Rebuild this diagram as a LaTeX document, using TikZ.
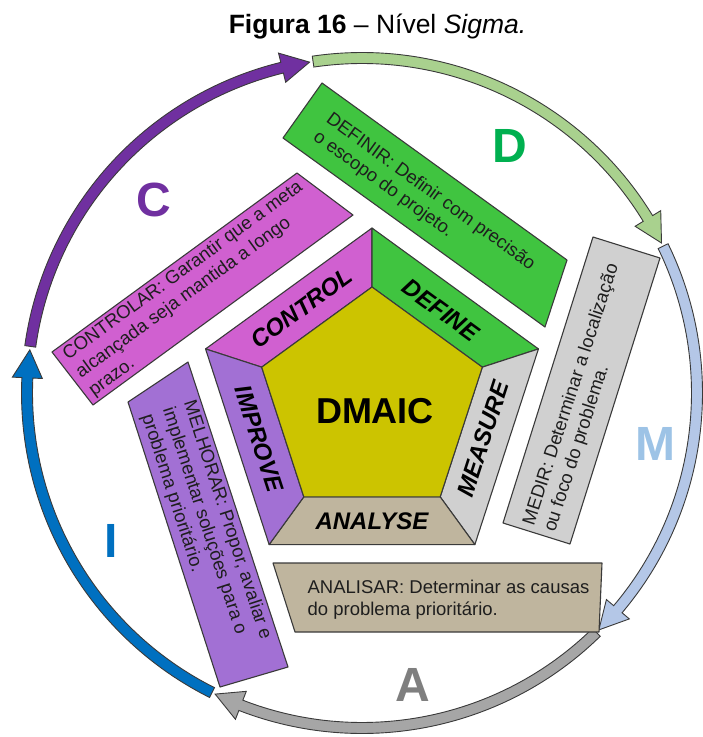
\documentclass[tikz,border=0pt]{standalone}
\usepackage{fontspec}
\setmainfont{Liberation Sans}
\usetikzlibrary{calc}

% phase colours
\definecolor{edgegray}{HTML}{3A3A3A}
\definecolor{txt}{HTML}{1E1E1E}
\definecolor{ctrlfill}{HTML}{D060D0}
\definecolor{deffill}{HTML}{40C440}
\definecolor{measfill}{HTML}{D0D0D0}
\definecolor{anafill}{HTML}{BFB59E}
\definecolor{impfill}{HTML}{A270D4}
\definecolor{corefill}{HTML}{CCC400}
% ring colours
\definecolor{ringC}{HTML}{7030A0}
\definecolor{ringD}{HTML}{A9D18E}
\definecolor{ringM}{HTML}{B4C7E7}
\definecolor{ringA}{HTML}{A6A6A6}
\definecolor{ringI}{HTML}{0070C0}
\definecolor{letD}{HTML}{00B050}
\definecolor{letM}{HTML}{9DC3E6}
\definecolor{letA}{HTML}{7F7F7F}

% curved ring arrow: colour, start angle, tip angle (clockwise)
\newcommand\ringarrow[3]{%
  \pgfmathsetmacro\headbase{#3+4.8}%
  \filldraw[fill=#1, draw=edgegray, line width=0.9pt, line join=miter]
    (#2:340.5) arc[start angle=#2, end angle=\headbase, radius=340.5]
    -- (\headbase:350) -- (#3:335) -- (\headbase:320)
    -- (\headbase:329.5) arc[start angle=\headbase, end angle=#2, radius=329.5]
    -- cycle;
}

\begin{document}
\begin{tikzpicture}[x=1pt, y=1pt,
  box/.style={draw=edgegray, line width=1.1pt, line join=round},
  boxtext/.style={font=\fontsize{18.5}{22}\selectfont, align=left, text=txt, inner sep=0pt},
  seglabel/.style={font=\fontsize{24}{24}\selectfont\bfseries\itshape, text=black, inner sep=0pt},
  bigletter/.style={font=\fontsize{48}{48}\selectfont\bfseries, inner sep=0pt}]
\useasboundingbox (0,0) rectangle (703,-737);

% title
\node[anchor=base, font=\fontsize{26.5}{26.5}\selectfont, inner sep=0pt] (title) at (377.5,-33)
  {\textbf{Figura 16} – Nível \textit{Sigma.}};

% outer cycle of arrows
\begin{scope}[shift={(362,-393)}]
  \ringarrow{ringC}{172.0}{99.0}
  \ringarrow{ringD}{98.4}{26.6}
  \ringarrow{ringM}{26.0}{-45.0}
  \ringarrow{ringA}{-45.6}{-116.0}
  \ringarrow{ringI}{-116.6}{-187.4}
\end{scope}

% phase letters
\node[bigletter, text=ringC] (letC) at (154,-200) {C};
\node[bigletter, text=letD]  (letD) at (510,-146) {D};
\node[bigletter, text=letM]  (letM) at (655,-444) {M};
\node[bigletter, text=letA]  (letA) at (413,-685) {A};
\node[bigletter, text=ringI] (letI) at (111,-541) {I};

% description boxes
\filldraw[box, fill=deffill]  (322,-83) -- (567,-260) -- (545,-327) -- (283,-138) -- cycle;
\filldraw[box, fill=ctrlfill] (297,-173) -- (353,-215) -- (93,-405) -- (52,-352) -- cycle;
\filldraw[box, fill=measfill] (593,-237) -- (660,-258) -- (570,-544) -- (503,-523) -- cycle;
\filldraw[box, fill=impfill]  (128,-402) -- (188,-362) -- (288,-667) -- (220,-687) -- cycle;
\filldraw[box, fill=anafill]  (273,-563) -- (602,-563) -- (599,-632) -- (295,-632) -- cycle;

\node[boxtext, rotate=-36] (tdef) at (424,-201)
  {DEFINIR: Definir com precisão\\o escopo do projeto.};
\node[boxtext, rotate=36] (tctrl) at (196,-289)
  {CONTROLAR: Garantir que a meta\\alcançada seja mantida a longo\\prazo.};
\node[boxtext, rotate=72] (tmeas) at (582,-398)
  {MEDIR: Determinar a localização\\ou foco do problema.};
\node[boxtext, rotate=-72] (timp) at (206,-527)
  {MELHORAR: Propor, avaliar e\\implementar soluções para o\\problema prioritário.};
\node[boxtext] (tana) at (448.5,-599.5)
  {ANALISAR: Determinar as causas\\do problema prioritário.};

% DMAIC pentagon
\begin{scope}[shift={(372,-403)}]
  \filldraw[box, fill=ctrlfill] (162:175) -- (90:175) -- (90:116) -- (162:116) -- cycle;
  \filldraw[box, fill=deffill]  (90:175) -- (18:175) -- (18:116) -- (90:116) -- cycle;
  \filldraw[box, fill=measfill] (18:175) -- (-54:175) -- (-54:116) -- (18:116) -- cycle;
  \filldraw[box, fill=anafill]  (-54:175) -- (-126:175) -- (-126:116) -- (-54:116) -- cycle;
  \filldraw[box, fill=impfill]  (-126:175) -- (162:175) -- (162:116) -- (-126:116) -- cycle;
  \filldraw[box, fill=corefill] (90:116) -- (18:116) -- (-54:116) -- (-126:116) -- (162:116) -- cycle;
\end{scope}

\node[seglabel, rotate=36]  (sctrl) at (302,-308) {CONTROL};
\node[seglabel, rotate=-36] (sdef)  at (441,-310) {DEFINE};
\node[seglabel, rotate=72]  (smeas) at (483,-439) {MEASURE};
\node[seglabel]             (sana)  at (372,-521) {ANALYSE};
\node[seglabel, rotate=-72] (simp)  at (259,-439) {IMPROVE};
\node[font=\fontsize{36}{36}\selectfont\bfseries, inner sep=0pt] (core) at (375,-411) {DMAIC};
\end{tikzpicture}
\end{document}
